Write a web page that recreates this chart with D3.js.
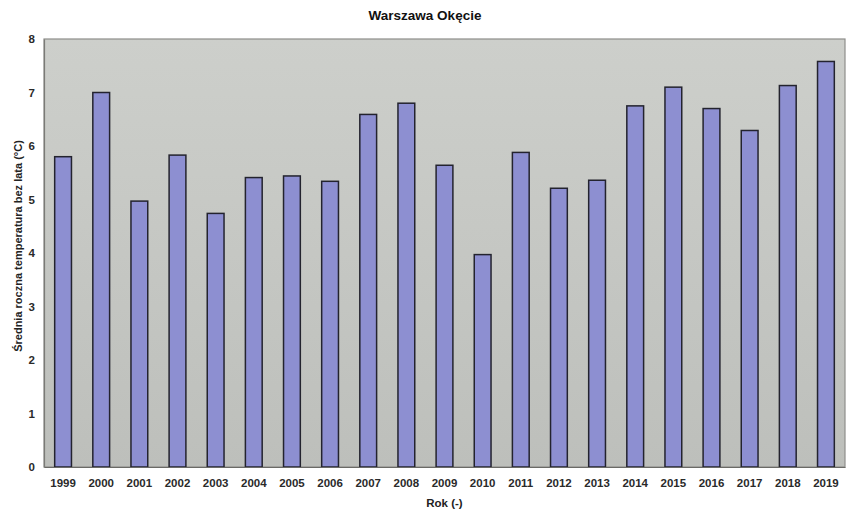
<!DOCTYPE html>
<html>
<head>
<meta charset="utf-8">
<script src="https://cdn.jsdelivr.net/npm/d3@7"></script>
<style>
  html, body { margin: 0; padding: 0; background: #ffffff; }
  svg { display: block; font-family: "Liberation Sans", Arial, sans-serif; }
</style>
</head>
<body>
<svg id="chart" width="846" height="514"></svg>
<script>
// Annual mean temperature excluding summer, Warszawa Okęcie station
const years = ["1999","2000","2001","2002","2003","2004","2005","2006","2007","2008","2009",
               "2010","2011","2012","2013","2014","2015","2016","2017","2018","2019"];
const temps = [5.80, 7.00, 4.97, 5.83, 4.74, 5.41, 5.44, 5.34, 6.59, 6.80, 5.64,
               3.97, 5.88, 5.21, 5.36, 6.75, 7.10, 6.70, 6.29, 7.13, 7.58];
const yTicks = [0, 1, 2, 3, 4, 5, 6, 7, 8];

const titleText = "Warszawa Okęcie";
const xTitle = "Rok (-)";
const yTitle = "Średnia roczna temperatura bez lata (°C)";

const svg = d3.select("#chart");
const margin = { top: 39, right: 1, bottom: 47, left: 44 };
const W = 846, H = 514;
const iw = W - margin.left - margin.right;
const ih = H - margin.top - margin.bottom;

const defs = svg.append("defs");
const grad = defs.append("linearGradient")
  .attr("id", "plotBg").attr("x1", 0).attr("y1", 0).attr("x2", 0).attr("y2", 1);
grad.append("stop").attr("offset", "0%").attr("stop-color", "#cdcfcb");
grad.append("stop").attr("offset", "100%").attr("stop-color", "#bdbfbb");

const x = d3.scaleBand().domain(years).range([0, iw]).paddingInner(0.56).paddingOuter(0.28);
const y = d3.scaleLinear().domain([0, 8]).range([ih, 0]);

const g = svg.append("g").attr("transform", `translate(${margin.left},${margin.top})`);

// plot area
g.append("rect")
  .attr("x", 0).attr("y", 0).attr("width", iw).attr("height", ih)
  .attr("fill", "url(#plotBg)")
  .attr("stroke", "#8e8e8a").attr("stroke-width", 1.2);

// bars
g.selectAll("rect.bar")
  .data(years.map((yr, i) => ({ yr, v: temps[i] })))
  .join("rect")
  .attr("class", "bar")
  .attr("x", d => x(d.yr))
  .attr("y", d => y(d.v))
  .attr("width", x.bandwidth())
  .attr("height", d => ih - y(d.v))
  .attr("fill", "#8d8fd1")
  .attr("stroke", "#23232e")
  .attr("stroke-width", 1.5);

// y axis
const yAxis = g.append("g")
  .call(d3.axisLeft(y).tickValues(yTicks).tickSize(0).tickPadding(9).tickFormat(d3.format("d")));
yAxis.select(".domain").attr("stroke", "#7a7a76").attr("stroke-width", 1.2);
yAxis.selectAll(".tick text")
  .attr("font-size", 11.5).attr("font-weight", "bold").attr("fill", "#2a2a2a")
  .attr("font-family", "Liberation Sans, Arial, sans-serif");

// x axis
const xAxis = g.append("g")
  .attr("transform", `translate(0,${ih})`)
  .call(d3.axisBottom(x).tickSize(0).tickPadding(12));
xAxis.select(".domain").attr("stroke", "#6a6a66").attr("stroke-width", 1.2);
xAxis.selectAll(".tick text")
  .attr("font-size", 11.5).attr("font-weight", "bold").attr("fill", "#2a2a2a")
  .attr("font-family", "Liberation Sans, Arial, sans-serif");

// titles
svg.append("text")
  .attr("x", 425).attr("y", 20)
  .attr("text-anchor", "middle")
  .attr("font-size", 13.5).attr("font-weight", "bold").attr("fill", "#111")
  .text(titleText);

svg.append("text")
  .attr("x", margin.left + iw / 2).attr("y", 507)
  .attr("text-anchor", "middle")
  .attr("font-size", 11.5).attr("font-weight", "bold").attr("fill", "#222")
  .text(xTitle);

svg.append("text")
  .attr("transform", `translate(22,246) rotate(-90)`)
  .attr("text-anchor", "middle")
  .attr("font-size", 11).attr("font-weight", "bold").attr("fill", "#222")
  .text(yTitle);
</script>
</body>
</html>
